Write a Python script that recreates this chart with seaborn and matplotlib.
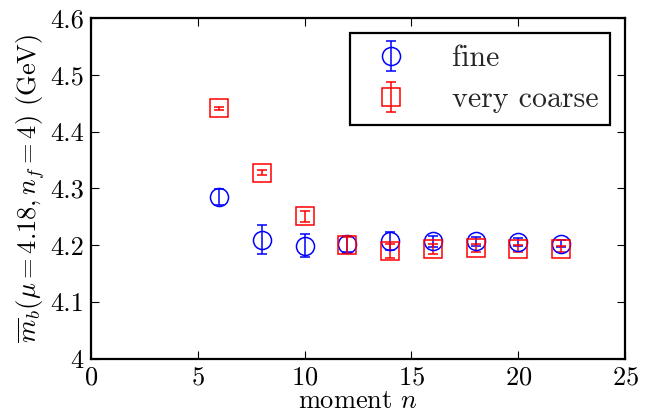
"""Bottom-quark mass from moments: fine vs very coarse lattices."""

import matplotlib
matplotlib.use('Agg')
import matplotlib.pyplot as plt
from matplotlib.ticker import FuncFormatter, MultipleLocator
import seaborn as sns

# moment number n
moments = [6, 8, 10, 12, 14, 16, 18, 20, 22]

# fine ensemble
fine_mb = [4.285, 4.210, 4.199, 4.203, 4.207, 4.207, 4.207, 4.205, 4.203]
fine_err = [0.014, 0.026, 0.020, 0.014, 0.016, 0.010, 0.008, 0.007, 0.006]

# very coarse ensemble
coarse_mb = [4.441, 4.328, 4.251, 4.200, 4.190, 4.194, 4.195, 4.194, 4.193]
coarse_err = [0.003, 0.005, 0.010, 0.014, 0.013, 0.009, 0.007, 0.006, 0.005]

sns.set_theme(style='ticks')
plt.rcParams['font.family'] = 'serif'
plt.rcParams['font.serif'] = ['cmr10', 'DejaVu Serif']
plt.rcParams['mathtext.fontset'] = 'cm'
plt.rcParams['axes.formatter.use_mathtext'] = True
plt.rcParams['axes.unicode_minus'] = False

fig = plt.figure(figsize=(6.54, 4.12), dpi=100)
ax = fig.add_axes([0.139, 0.129, 0.817, 0.827])

series = [('fine', fine_mb, fine_err, 'o', '#0000ff'),
          ('very coarse', coarse_mb, coarse_err, 's', '#ff0000')]
for label, vals, errs, marker, color in series:
    ax.errorbar(moments, vals, yerr=errs, fmt=marker, color=color,
                mfc='none', mec=color, ms=13,
                mew=1.1, elinewidth=1.1, capsize=3.5, capthick=1.6,
                label=label)

ax.set_xlim(0, 25)
ax.set_ylim(4.0, 4.6)
ax.xaxis.set_major_locator(MultipleLocator(5))
ax.yaxis.set_major_locator(MultipleLocator(0.1))
ax.yaxis.set_major_formatter(FuncFormatter(lambda v, p: f'{v:g}'))

ax.tick_params(direction='in', top=True, right=True, length=6,
               width=0.8, labelsize=19, color='black', labelcolor='black',
               pad=5)
for spine in ax.spines.values():
    spine.set_linewidth(1.6)
    spine.set_color('black')

ax.set_xlabel('moment $n$', fontsize=19, color='black', labelpad=0)
ax.set_ylabel(r'$\overline{m}_b(\mu = 4.18, n_f = 4)$ (GeV)',
              fontsize=19, color='black', labelpad=2)

leg = ax.legend(loc='upper right', fontsize=21.5, fancybox=False,
                edgecolor='black', framealpha=1, borderpad=0.4,
                handlelength=1.9, handletextpad=1.1, labelspacing=0.45,
                borderaxespad=0.5)
leg.get_frame().set_linewidth(1.6)

fig.savefig('out.png', dpi=100)
